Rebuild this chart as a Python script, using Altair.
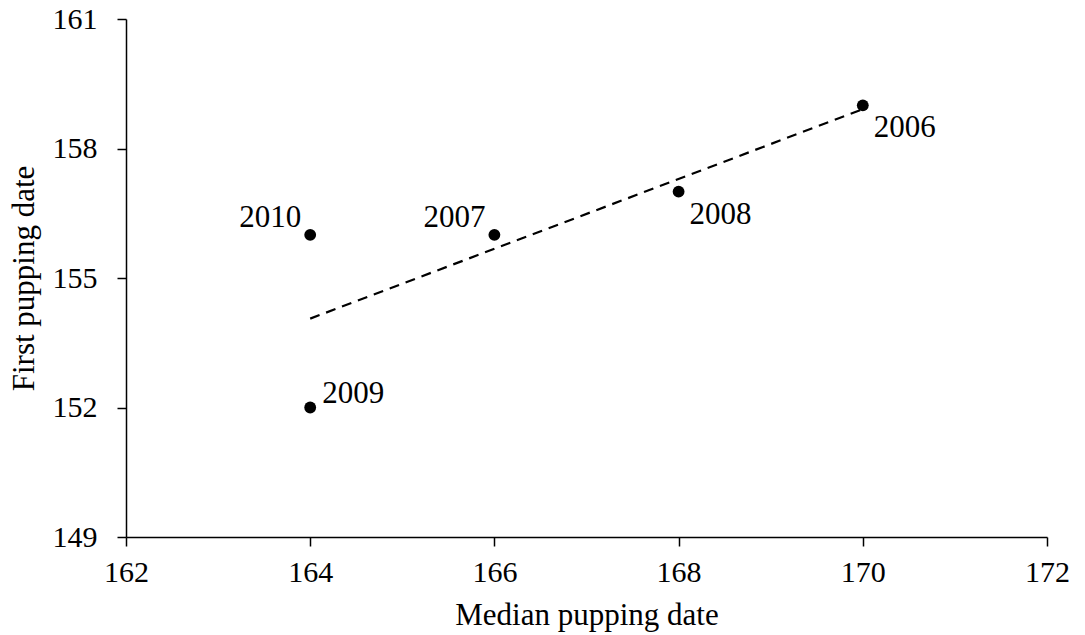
import altair as alt
import pandas as pd

median_date = [170, 166, 168, 164, 164]
first_date = [159, 156, 157, 152, 156]
years = ["2006", "2007", "2008", "2009", "2010"]
label_pos = ["below-right", "above-left", "below-right", "above-right", "above-left"]

df = pd.DataFrame({"median": median_date, "first": first_date, "year": years, "pos": label_pos})

FONT = "Liberation Serif"

x = alt.X("median:Q", scale=alt.Scale(domain=[162, 172], nice=False, zero=False),
          axis=alt.Axis(values=[162, 164, 166, 168, 170, 172], title="Median pupping date", format="d",
                        grid=False, tickSize=9, labelPadding=11, titlePadding=13, labelFlush=False))
y = alt.Y("first:Q", scale=alt.Scale(domain=[149, 161], nice=False, zero=False),
          axis=alt.Axis(values=[149, 152, 155, 158, 161], title="First pupping date", format="d",
                        grid=False, tickSize=9, labelPadding=20, titlePadding=12, labelFlush=False))

base = alt.Chart(df)

points = base.mark_circle(size=140, color="black", opacity=1).encode(x=x, y=y)

trend = base.transform_regression("median", "first").mark_line(
    color="black", strokeDash=[10, 7], strokeWidth=2.2
).encode(x="median:Q", y="first:Q")

def labels(pos, align, dx, dy):
    return base.transform_filter(alt.datum.pos == pos).mark_text(
        align=align, baseline="alphabetic", dx=dx, dy=dy, font=FONT, fontSize=31, color="black"
    ).encode(x="median:Q", y="first:Q", text="year:N")

txt = (labels("above-left", "right", -9, -8)
       + labels("above-right", "left", 12, -5)
       + labels("below-right", "left", 11, 32))

chart = (trend + points + txt).properties(
    width=921, height=518,
    autosize=alt.AutoSizeParams(type="none"),
    padding={"left": 126, "top": 19, "right": 38, "bottom": 98},
).configure(background="white").configure_view(stroke=None).configure_axis(
    domainColor="black", tickColor="black", domainWidth=1.5, tickWidth=1.5,
    labelFont=FONT, titleFont=FONT, labelFontSize=30, titleFontSize=31,
    labelColor="black", titleColor="black", titleFontWeight="normal",
)

chart.save("out.html", embed_options={"renderer": "svg", "actions": False})
